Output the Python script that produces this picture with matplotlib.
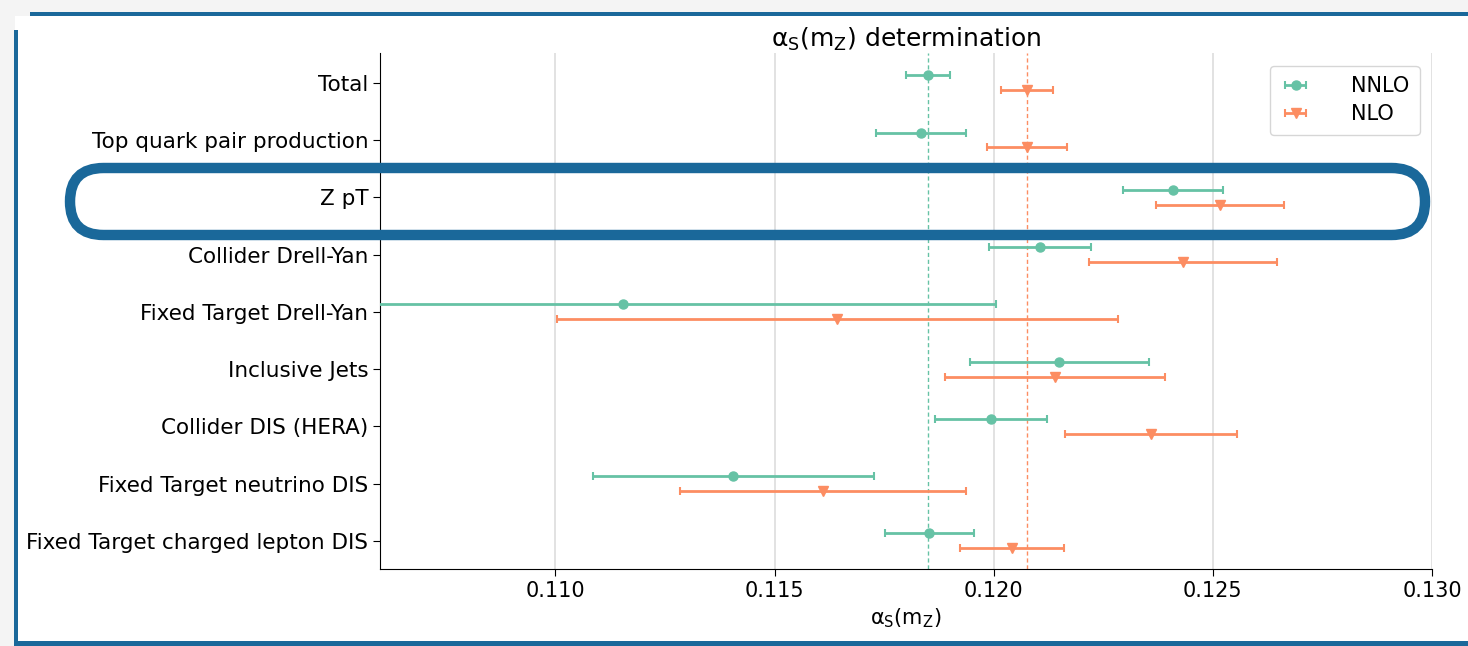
import matplotlib
matplotlib.use("Agg")
import matplotlib.pyplot as plt
from matplotlib.patches import FancyBboxPatch, Rectangle
import numpy as np

plt.rcParams['mathtext.default'] = 'regular'

categories = ["Total", "Top quark pair production", "Z pT", "Collider Drell-Yan",
              "Fixed Target Drell-Yan", "Inclusive Jets", "Collider DIS (HERA)",
              "Fixed Target neutrino DIS", "Fixed Target charged lepton DIS"]

nnlo_val = [0.1185, 0.11835, 0.12409, 0.12106, 0.11155, 0.1215, 0.11994, 0.11406, 0.11853]
nnlo_err = [0.0005, 0.00103, 0.00115, 0.00116, 0.0085, 0.00205, 0.00127, 0.0032, 0.00101]
nlo_val = [0.12076, 0.12076, 0.12517, 0.12432, 0.11643, 0.1214, 0.12359, 0.11611, 0.12042]
nlo_err = [0.0006, 0.00091, 0.00146, 0.00214, 0.0064, 0.0025, 0.00197, 0.00326, 0.00119]

green = '#66c2a5'
orange = '#fc8d62'
blue = '#1a689a'

fig = plt.figure(figsize=(14.68, 6.46), dpi=100)
fig.patch.set_facecolor('#f4f4f4')

# slide frame
fig.add_artist(Rectangle((15/1468, 4/646), 1 - 15/1468, 1 - 20/646, transform=fig.transFigure,
                         facecolor='white', edgecolor='none', zorder=0))
fig.add_artist(Rectangle((30/1468, 1 - 16/646), 1, 4/646, transform=fig.transFigure,
                         facecolor=blue, edgecolor='none', zorder=0))
fig.add_artist(Rectangle((14/1468, 0), 4/1468, 1 - 30/646, transform=fig.transFigure,
                         facecolor=blue, edgecolor='none', zorder=0))
fig.add_artist(Rectangle((14/1468, 0), 1, 5/646, transform=fig.transFigure,
                         facecolor=blue, edgecolor='none', zorder=0))

ax = fig.add_axes([380/1468, 1 - 569/646, 1052/1468, 516/646])
ax.set_facecolor('white')

y = np.arange(len(categories))
off = 0.13
ax.errorbar(nnlo_val, y - off, xerr=nnlo_err, fmt='o', color=green, ms=6.5,
            capsize=3, elinewidth=2, capthick=1.5, label='NNLO', zorder=3)
ax.errorbar(nlo_val, y + off, xerr=nlo_err, fmt='v', color=orange, ms=6.5,
            capsize=3, elinewidth=2, capthick=1.5, label='NLO', zorder=3)

ax.axvline(nnlo_val[0], color=green, ls=(0, (3, 2)), lw=1, zorder=2)
ax.axvline(nlo_val[0], color=orange, ls=(0, (3, 2)), lw=1, zorder=2)

ax.set_yticks(y)
ax.set_yticklabels(categories, fontsize=15.5)
ax.set_ylim(8.49, -0.52)
ax.set_xlim(0.106, 0.130)
ax.set_xticks([0.110, 0.115, 0.120, 0.125, 0.130])
ax.set_xticklabels(['0.110', '0.115', '0.120', '0.125', '0.130'], fontsize=15)
ax.tick_params(axis='both', length=5)
ax.grid(axis='x', color='#dddddd', lw=1.2, zorder=0)
ax.set_axisbelow(True)
for s in ['top', 'right']:
    ax.spines[s].set_visible(False)
ax.set_xlabel(r'$\alpha_S(m_Z)$', fontsize=15, labelpad=4)
ax.set_title(r'$\alpha_S(m_Z)$ determination', fontsize=18, pad=4)
ax.legend(loc='upper right', fontsize=15, handlelength=1.5, borderpad=0.5,
          handletextpad=1.9, labelspacing=0.4, borderaxespad=0.6)

# highlight around Z pT
hl = FancyBboxPatch((0.70, 4.11), 13.55, 0.67,
                    boxstyle="round,pad=0,rounding_size=0.335",
                    transform=fig.dpi_scale_trans, facecolor='none',
                    edgecolor=blue, lw=7.5, zorder=10)
fig.add_artist(hl)

fig.savefig('out.png', dpi=100, facecolor=fig.get_facecolor())
